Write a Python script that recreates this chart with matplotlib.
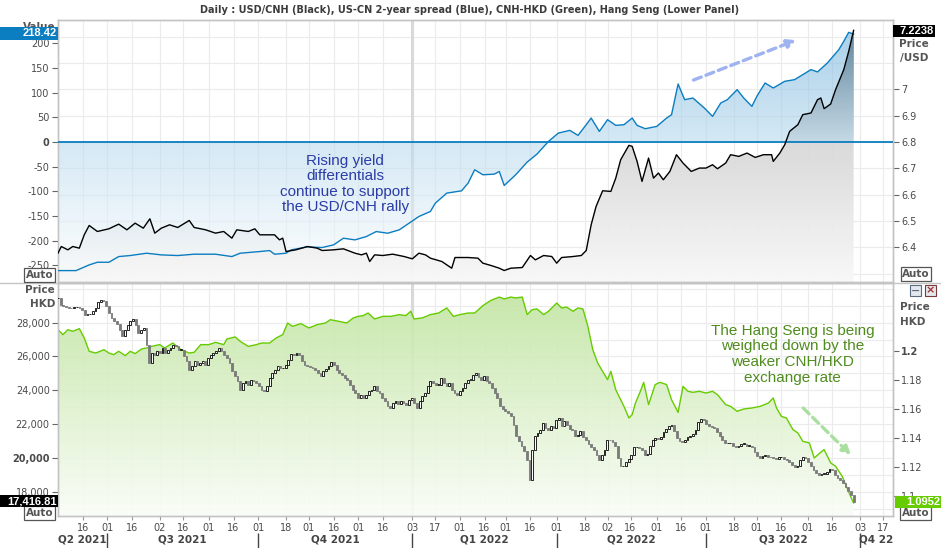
import numpy as np
import pandas as pd
import matplotlib
matplotlib.use("Agg")
import matplotlib.pyplot as plt
import matplotlib.transforms as mtransforms
from matplotlib.colors import LinearSegmentedColormap
from matplotlib.patches import Rectangle

# ---- data ----

# US-CN 2-year spread (blue, top panel, left axis)
spread_dates = [
    "2021-06-01", "2021-06-12", "2021-06-20", "2021-06-25", "2021-07-02", "2021-07-08",
    "2021-07-15", "2021-07-25", "2021-08-03", "2021-08-13", "2021-08-23", "2021-09-05",
    "2021-09-15", "2021-09-20", "2021-10-02", "2021-10-08", "2021-10-11", "2021-10-18",
    "2021-10-21", "2021-10-31", "2021-11-09", "2021-11-16", "2021-11-22", "2021-11-29",
    "2021-12-06", "2021-12-12", "2021-12-19", "2021-12-26", "2022-01-01", "2022-01-07",
    "2022-01-14", "2022-01-17", "2022-01-24", "2022-02-02", "2022-02-06", "2022-02-10",
    "2022-02-15", "2022-02-22", "2022-02-25", "2022-02-28", "2022-03-07", "2022-03-14",
    "2022-03-20", "2022-03-27", "2022-04-02", "2022-04-09", "2022-04-14", "2022-04-19",
    "2022-04-22", "2022-04-27", "2022-05-02", "2022-05-07", "2022-05-12", "2022-05-17",
    "2022-05-20", "2022-05-25", "2022-06-01", "2022-06-07", "2022-06-10", "2022-06-14",
    "2022-06-18", "2022-06-23", "2022-06-30", "2022-07-05", "2022-07-10", "2022-07-14",
    "2022-07-20", "2022-07-24", "2022-07-29", "2022-08-01", "2022-08-06", "2022-08-11",
    "2022-08-18", "2022-08-24", "2022-08-29", "2022-09-03", "2022-09-07", "2022-09-13",
    "2022-09-20", "2022-09-23", "2022-09-26", "2022-09-29",
]
spread_vals = [
    -260.6, -260.6, -249.1, -243.7, -243.7, -232.2, -230.1, -225.4, -228.8, -230.1,
    -227.4, -227.4, -232.2, -225.4, -222.0, -220.0, -227.4, -225.4, -218.7, -212.6,
    -213.9, -208.5, -195.0, -198.4, -191.6, -181.5, -184.9, -178.1, -164.6, -151.0,
    -140.9, -124.0, -103.7, -99.0, -83.4, -56.4, -66.5, -65.2, -59.8, -88.2,
    -66.5, -40.8, -24.6, 1.1, 18.0, 23.4, 13.3, 34.9, 48.4, 21.4,
    45.1, 33.6, 34.9, 48.4, 33.6, 26.8, 31.5, 48.4, 55.2, 117.4,
    85.6, 89.0, 68.7, 51.8, 78.9, 85.6, 105.9, 89.0, 72.1, 92.4,
    119.4, 109.3, 122.8, 126.2, 136.3, 146.5, 141.8, 160.0, 187.1, 204.0,
    222.0, 218.42,
]

# USD/CNH (black, top panel, right axis)
usdcnh_dates = [
    "2021-06-01", "2021-06-03", "2021-06-07", "2021-06-10", "2021-06-14", "2021-06-17",
    "2021-06-20", "2021-06-25", "2021-07-02", "2021-07-08", "2021-07-13", "2021-07-18",
    "2021-07-23", "2021-07-27", "2021-07-30", "2021-08-03", "2021-08-08", "2021-08-13",
    "2021-08-20", "2021-08-23", "2021-08-30", "2021-09-05", "2021-09-10", "2021-09-15",
    "2021-09-18", "2021-09-25", "2021-09-29", "2021-10-02", "2021-10-11", "2021-10-14",
    "2021-10-16", "2021-10-18", "2021-10-24", "2021-10-31", "2021-11-06", "2021-11-09",
    "2021-11-16", "2021-11-22", "2021-11-29", "2021-12-03", "2021-12-06", "2021-12-08",
    "2021-12-11", "2021-12-16", "2021-12-22", "2021-12-29", "2022-01-03", "2022-01-07",
    "2022-01-11", "2022-01-14", "2022-01-21", "2022-01-27", "2022-01-29", "2022-02-06",
    "2022-02-12", "2022-02-15", "2022-02-20", "2022-02-25", "2022-02-28", "2022-03-04",
    "2022-03-11", "2022-03-16", "2022-03-19", "2022-03-24", "2022-03-29", "2022-04-01",
    "2022-04-04", "2022-04-11", "2022-04-16", "2022-04-19", "2022-04-22", "2022-04-25",
    "2022-04-29", "2022-05-04", "2022-05-07", "2022-05-10", "2022-05-15", "2022-05-17",
    "2022-05-20", "2022-05-23", "2022-05-27", "2022-05-30", "2022-06-02", "2022-06-05",
    "2022-06-09", "2022-06-13", "2022-06-17", "2022-06-22", "2022-06-27", "2022-07-01",
    "2022-07-05", "2022-07-08", "2022-07-13", "2022-07-16", "2022-07-21", "2022-07-26",
    "2022-07-31", "2022-08-05", "2022-08-10", "2022-08-11", "2022-08-15", "2022-08-18",
    "2022-08-21", "2022-08-26", "2022-08-29", "2022-09-03", "2022-09-07", "2022-09-09",
    "2022-09-11", "2022-09-15", "2022-09-18", "2022-09-23", "2022-09-26", "2022-09-29",
]
usdcnh_vals = [
    6.3775, 6.4028, 6.3902, 6.4028, 6.3965, 6.4472, 6.4827, 6.4599, 6.4700, 6.4877,
    6.4662, 6.4915, 6.4725, 6.5080, 6.4535, 6.4725, 6.4852, 6.4751, 6.5017, 6.4751,
    6.4662, 6.4535, 6.4599, 6.4345, 6.4662, 6.4599, 6.4700, 6.4472, 6.4472, 6.4282,
    6.4345, 6.3838, 6.3902, 6.4028, 6.3965, 6.3876, 6.3902, 6.3940, 6.3775, 6.3711,
    6.3775, 6.3458, 6.3711, 6.3686, 6.3737, 6.3648, 6.3559, 6.3775, 6.3711, 6.3585,
    6.3458, 6.3204, 6.3610, 6.3610, 6.3585, 6.3395, 6.3306, 6.3204, 6.3116, 6.3204,
    6.3230, 6.3686, 6.3521, 6.3686, 6.3648, 6.3395, 6.3610, 6.3648, 6.3686, 6.3876,
    6.4852, 6.5549, 6.6145, 6.6120, 6.6626, 6.7324, 6.7869, 6.7831, 6.7260, 6.6500,
    6.7387, 6.6626, 6.6817, 6.6563, 6.6880, 6.7514, 6.7197, 6.6880, 6.7007, 6.7007,
    6.7133, 6.6981, 6.7197, 6.7514, 6.7450, 6.7577, 6.7412, 6.7514, 6.7514, 6.7260,
    6.7577, 6.7894, 6.8401, 6.8654, 6.9035, 6.9098, 6.9605, 6.9668, 6.9263, 6.9440,
    6.9985, 7.0746, 7.1443, 7.2238,
]

# CNH-HKD (green, lower panel, right axis)
cnhhkd_dates = [
    "2021-06-01", "2021-06-04", "2021-06-07", "2021-06-10", "2021-06-14", "2021-06-17",
    "2021-06-20", "2021-06-24", "2021-06-29", "2021-07-02", "2021-07-05", "2021-07-08",
    "2021-07-12", "2021-07-15", "2021-07-18", "2021-07-22", "2021-07-25", "2021-07-28",
    "2021-08-02", "2021-08-05", "2021-08-10", "2021-08-15", "2021-08-20", "2021-08-23",
    "2021-08-27", "2021-09-01", "2021-09-05", "2021-09-10", "2021-09-12", "2021-09-17",
    "2021-09-20", "2021-09-25", "2021-09-30", "2021-10-03", "2021-10-08", "2021-10-12",
    "2021-10-16", "2021-10-19", "2021-10-22", "2021-10-27", "2021-11-01", "2021-11-06",
    "2021-11-11", "2021-11-14", "2021-11-19", "2021-11-24", "2021-11-28", "2021-12-01",
    "2021-12-04", "2021-12-07", "2021-12-11", "2021-12-16", "2021-12-21", "2021-12-26",
    "2021-12-30", "2022-01-02", "2022-01-04", "2022-01-09", "2022-01-14", "2022-01-19",
    "2022-01-24", "2022-01-28", "2022-02-01", "2022-02-06", "2022-02-10", "2022-02-15",
    "2022-02-20", "2022-02-25", "2022-02-28", "2022-03-04", "2022-03-07", "2022-03-11",
    "2022-03-14", "2022-03-17", "2022-03-20", "2022-03-24", "2022-03-27", "2022-04-01",
    "2022-04-04", "2022-04-07", "2022-04-11", "2022-04-14", "2022-04-17", "2022-04-20",
    "2022-04-23", "2022-04-26", "2022-04-29", "2022-05-02", "2022-05-04", "2022-05-07",
    "2022-05-12", "2022-05-15", "2022-05-17", "2022-05-19", "2022-05-22", "2022-05-24",
    "2022-05-27", "2022-05-31", "2022-06-03", "2022-06-07", "2022-06-10", "2022-06-14",
    "2022-06-17", "2022-06-20", "2022-06-23", "2022-06-27", "2022-07-01", "2022-07-05",
    "2022-07-08", "2022-07-13", "2022-07-16", "2022-07-20", "2022-07-24", "2022-07-29",
    "2022-08-03", "2022-08-08", "2022-08-11", "2022-08-13", "2022-08-16", "2022-08-19",
    "2022-08-23", "2022-08-26", "2022-08-29", "2022-09-02", "2022-09-05", "2022-09-08",
    "2022-09-11", "2022-09-15", "2022-09-18", "2022-09-22", "2022-09-25", "2022-09-28",
    "2022-09-29",
]
cnhhkd_vals = [
    1.2147, 1.2113, 1.2147, 1.2136, 1.2154, 1.2090, 1.1998, 1.1986, 1.2009, 1.1986,
    1.1975, 1.1998, 1.1968, 1.1998, 1.1982, 1.2014, 1.2021, 1.2032, 1.2044, 1.2021,
    1.2055, 1.2009, 1.1986, 1.1991, 1.2044, 1.2044, 1.2060, 1.2044, 1.2083, 1.2097,
    1.2067, 1.2032, 1.2044, 1.2055, 1.2055, 1.2090, 1.2113, 1.2193, 1.2170, 1.2189,
    1.2159, 1.2182, 1.2193, 1.2216, 1.2205, 1.2193, 1.2228, 1.2239, 1.2244, 1.2262,
    1.2221, 1.2239, 1.2239, 1.2251, 1.2244, 1.2274, 1.2221, 1.2228, 1.2251, 1.2262,
    1.2297, 1.2239, 1.2251, 1.2262, 1.2262, 1.2313, 1.2350, 1.2372, 1.2359, 1.2372,
    1.2366, 1.2372, 1.2251, 1.2285, 1.2290, 1.2251, 1.2274, 1.2331, 1.2297, 1.2303,
    1.2274, 1.2297, 1.2290, 1.2170, 1.2009, 1.1917, 1.1860, 1.1802, 1.1860, 1.1733,
    1.1618, 1.1538, 1.1561, 1.1641, 1.1722, 1.1784, 1.1630, 1.1768, 1.1784, 1.1768,
    1.1664, 1.1577, 1.1756, 1.1722, 1.1715, 1.1722, 1.1710, 1.1722, 1.1699, 1.1630,
    1.1618, 1.1584, 1.1600, 1.1607, 1.1618, 1.1641, 1.1676, 1.1607, 1.1549, 1.1538,
    1.1458, 1.1435, 1.1377, 1.1366, 1.1262, 1.1292, 1.1320, 1.1228, 1.1205, 1.1136,
    1.1055, 1.0975, 1.0952,
]

# Hang Seng closes (lower panel, left axis), evenly spaced from start to end
hs_start, hs_end = "2021-06-01", "2022-09-29"
hs_close = [
    29462, 29067, 28969, 28929, 28890, 28870, 28909, 28929, 28850, 28771,
    28476, 28495, 28535, 28673, 28870, 29205, 29363, 29264, 28969, 28574,
    28278, 28081, 27943, 27588, 27194, 27588, 27884, 28081, 28219, 27884,
    27391, 27588, 27687, 26701, 25616, 26208, 26109, 26306, 26208, 26503,
    26208, 26405, 26503, 26701, 26602, 26405, 26405, 26011, 25715, 25182,
    25419, 25715, 25518, 25616, 25715, 25518, 25912, 26109, 26208, 26306,
    26503, 26306, 26109, 25912, 25616, 25123, 24827, 24532, 24039, 24433,
    24532, 24334, 24630, 24532, 24433, 24236, 24039, 23940, 24236, 24729,
    25025, 25222, 25419, 25320, 25320, 25518, 25813, 26168, 26109, 26208,
    26109, 25715, 25518, 25419, 25380, 25320, 25182, 25025, 24867, 25123,
    25261, 25419, 25656, 25518, 25222, 25025, 24926, 24729, 24630, 24334,
    24039, 23841, 23546, 23743, 23546, 23743, 23940, 24039, 24236, 23940,
    23841, 23546, 23348, 23053, 22954, 23250, 23348, 23210, 23348, 23250,
    23151, 23447, 23546, 23250, 22954, 23348, 23644, 23841, 24236, 24532,
    24433, 24334, 24334, 24729, 24433, 24275, 24433, 24039, 23841, 23743,
    23940, 24137, 24433, 24630, 24630, 24926, 25025, 24788, 24630, 24827,
    24532, 24433, 24137, 23841, 23546, 23053, 22895, 22757, 22658, 22461,
    21968, 21278, 20982, 20687, 20391, 19898, 18714, 20489, 21278, 21475,
    21672, 22067, 21771, 21672, 21869, 21771, 22264, 22363, 21869, 22165,
    21968, 21712, 21633, 21278, 21376, 21574, 21238, 21041, 20844, 20647,
    20450, 20193, 19898, 20193, 20489, 21080, 21041, 20923, 20687, 19996,
    19503, 19503, 19740, 19937, 20193, 20647, 20647, 20588, 20489, 20193,
    20252, 20726, 21041, 21179, 21120, 21238, 21515, 21712, 21909, 21968,
    21574, 21179, 20982, 20923, 21080, 21238, 21317, 21436, 21672, 22106,
    22303, 22264, 22027, 21909, 21830, 21771, 21515, 21278, 21080, 20883,
    20883, 20883, 20726, 20647, 20687, 20844, 20844, 20726, 20726, 20647,
    20331, 20095, 19996, 20134, 20193, 20055, 20055, 19996, 19937, 20055,
    20055, 19937, 19858, 19740, 19602, 19464, 19543, 19858, 20055, 19996,
    19740, 19503, 19306, 19109, 19010, 19069, 19069, 19148, 19345, 19306,
    19010, 18813, 18675, 18517, 18280, 18024, 17827, 17416.81,
]

# axis ticks and labels
spread_ticks = [-250, -200, -150, -100, -50, 0, 50, 100, 150, 200]
usd_ticks = [6.4, 6.5, 6.6, 6.7, 6.8, 6.9, 7.0]
usd_grid = [6.3, 6.4, 6.5, 6.6, 6.7, 6.8, 6.9, 7.0, 7.1, 7.2]
hs_ticks = [18000, 20000, 22000, 24000, 26000, 28000]
hs_grid = list(range(17000, 31000, 1000))
hkd_ticks = [1.1, 1.12, 1.14, 1.16, 1.18, 1.2]
xtick_dates = [
    "2021-06-16", "2021-07-01", "2021-07-16", "2021-08-02", "2021-08-16", "2021-09-01",
    "2021-09-16", "2021-10-01", "2021-10-18", "2021-11-01", "2021-11-16", "2021-12-01",
    "2021-12-16", "2022-01-03", "2022-01-17", "2022-02-01", "2022-02-16", "2022-03-01",
    "2022-03-16", "2022-04-01", "2022-04-18", "2022-05-02", "2022-05-16", "2022-06-01",
    "2022-06-16", "2022-07-01", "2022-07-18", "2022-08-01", "2022-08-16", "2022-09-01",
    "2022-09-16", "2022-10-03", "2022-10-17",
]
quarter_names = ["Q2 2021", "Q3 2021", "Q4 2021", "Q1 2022", "Q2 2022", "Q3 2022", "Q4 22"]
quarter_starts = ["2021-07-01", "2021-10-01", "2022-01-03", "2022-04-01", "2022-07-01", "2022-10-03"]
year_line = "2022-01-03"
x_range = ("2021-06-01", "2022-10-23")

title = ("Daily : USD/CNH (Black), US-CN 2-year spread (Blue), "
         "CNH-HKD (Green), Hang Seng (Lower Panel)")

# ---- figure ----
W, H = 941, 548
fig = plt.figure(figsize=(W / 100, H / 100), dpi=100)
fig.patch.set_facecolor("white")


def fx(px):
    return px / W


def fy(py):
    return 1 - py / H


ax = fig.add_axes([fx(58), fy(282), fx(893) - fx(58), fy(20) - fy(282)])
axr = ax.twinx()
ax2 = fig.add_axes([fx(58), fy(516), fx(893) - fx(58), fy(283) - fy(516)])
ax2r = ax2.twinx()

# right-hand axes sit underneath, left ones are transparent on top
for host, twin in [(ax, axr), (ax2, ax2r)]:
    twin.set_zorder(1)
    host.set_zorder(2)
    host.patch.set_visible(False)
    twin.patch.set_visible(True)
    twin.patch.set_facecolor("white")

sp_d = pd.to_datetime(spread_dates)
usd_d = pd.to_datetime(usdcnh_dates)
hkd_d = pd.to_datetime(cnhhkd_dates)
hs_d = pd.date_range(hs_start, hs_end, periods=len(hs_close))
xt = pd.to_datetime(xtick_dates)
xlo, xhi = pd.to_datetime(x_range[0]), pd.to_datetime(x_range[1])

GRID = "#ebebeb"


def gradient(host, poly, stops, colors, alpha=1.0, z=1):
    cmap = LinearSegmentedColormap.from_list("g", list(zip(stops, colors)))
    grad = np.linspace(0, 1, 256).reshape(-1, 1)
    im = host.imshow(grad, cmap=cmap, aspect="auto", origin="lower",
                     extent=[0, 1, 0, 1], transform=host.transAxes,
                     alpha=alpha, zorder=z, interpolation="bilinear")
    im.set_clip_path(poly.get_paths()[0], poly.get_transform())
    return im


# ---- top panel ----
axr.set_ylim(6.268, 7.263)
ax.set_ylim(-283.7, 247)

for v in usd_grid:
    axr.axhline(v, color=GRID, lw=0.8, zorder=0)
for d in xt:
    axr.axvline(d, color=GRID, lw=0.8, zorder=0)
axr.axvline(pd.to_datetime(year_line), color="#d9d9d9", lw=2.2, zorder=0)

poly_g = axr.fill_between(usd_d, usdcnh_vals, 6.0, facecolor="none", edgecolor="none")
gradient(axr, poly_g, [0, 0.535, 1], ["#f8f8f8", "#d8d8d8", "#2e2e2e"], alpha=0.95, z=1)

poly_b = ax.fill_between(sp_d, spread_vals, 0, facecolor="none", edgecolor="none")
gradient(ax, poly_b, [0, 0.535, 1], ["#ffffff", "#b9daee", "#6fb0da"], alpha=0.6, z=1)

ax.axhline(0, color="#0b7dc1", lw=1.3, zorder=3)
ax.plot(sp_d, spread_vals, color="#0b7dc1", lw=1.0, zorder=4)
ax.plot(usd_d, usdcnh_vals, color="black", lw=1.0, zorder=5, transform=axr.transData)

ax.text(0.344, 0.374, "Rising yield\ndifferentials\ncontinue to support\nthe USD/CNH rally",
        transform=ax.transAxes, ha="center", va="center", fontsize=11,
        family="Liberation Sans", color="#2a3ca8", linespacing=1.15, zorder=6)
ax.annotate("", xy=(0.887, 0.927), xytext=(0.758, 0.767), xycoords="axes fraction",
            arrowprops=dict(arrowstyle="-|>,head_length=0.5,head_width=0.25",
                            color="#9fb2f2", lw=2.4, linestyle=(0, (2.5, 1.5))),
            zorder=6)

# ---- bottom panel ----
ax2r.set_ylim(1.0862, 1.2469)
ax2.set_ylim(16562, 30349)

hs_tr = mtransforms.blended_transform_factory(ax2r.transAxes, ax2.transData)
ax2r.hlines(hs_grid, 0, 1, transform=hs_tr, color=GRID, lw=0.8, zorder=0)
for d in xt:
    ax2r.axvline(d, color=GRID, lw=0.8, zorder=0)
ax2r.axvline(pd.to_datetime(year_line), color="#d9d9d9", lw=2.2, zorder=0)

poly_h = ax2r.fill_between(hkd_d, cnhhkd_vals, 1.0, facecolor="none", edgecolor="none")
gradient(ax2r, poly_h, [0, 1], ["#fafdf7", "#bfe49e"], alpha=0.9, z=1)
ax2r.plot(hkd_d, cnhhkd_vals, color="#66cc00", lw=1.0, zorder=3)

# candles: open = previous close
closes = np.array(hs_close, dtype=float)
opens = np.r_[closes[0], closes[:-1]]
up = closes >= opens
body = np.abs(closes - opens)
low = np.minimum(opens, closes)
ax2.bar(hs_d[up], np.maximum(body[up], 15), bottom=low[up], width=1.1,
        color="white", edgecolor="black", linewidth=0.6, zorder=4)
ax2.bar(hs_d[~up], np.maximum(body[~up], 15), bottom=low[~up], width=1.1,
        color="#7a7a7a", edgecolor="#7a7a7a", linewidth=0.6, zorder=4)

ax2.text(0.880, 0.695, "The Hang Seng is being\nweighed down by the\nweaker CNH/HKD\nexchange rate",
         transform=ax2.transAxes, ha="center", va="center", fontsize=11,
         family="Liberation Sans", color="#4f8c1e", linespacing=1.15, zorder=6)
ax2.annotate("", xy=(0.952, 0.253), xytext=(0.890, 0.472), xycoords="axes fraction",
             arrowprops=dict(arrowstyle="-|>,head_length=0.5,head_width=0.25",
                             color="#a9e0a0", lw=2.4, linestyle=(0, (2.5, 1.5))),
             zorder=6)

# ---- axes styling ----
for a in (ax, axr, ax2, ax2r):
    a.set_xlim(xlo, xhi)
    for s in a.spines.values():
        s.set_color("#c4c4c4")
        s.set_linewidth(1.0)
ax.set_ylim(-283.7, 247)
axr.set_ylim(6.268, 7.263)
ax2.set_ylim(16562, 30349)
ax2r.set_ylim(1.0862, 1.2469)

tick_kw = dict(direction="out", length=4, width=0.8, color="#666666",
               labelsize=7, labelcolor="#4a4a4a", pad=2)
ax.tick_params(axis="y", **tick_kw)
axr.tick_params(axis="y", **tick_kw)
ax2.tick_params(axis="y", **tick_kw)
ax2r.tick_params(axis="y", **tick_kw)

ax.set_yticks(spread_ticks, [f"{v:g}" for v in spread_ticks])
axr.set_yticks(usd_ticks, [f"{v:g}" for v in usd_ticks])
ax2.set_yticks(hs_ticks, [f"{v:,.0f}" for v in hs_ticks])
ax2r.set_yticks(hkd_ticks, [f"{v:g}" for v in hkd_ticks])
for t in ax.get_yticklabels():
    if t.get_text() == "0":
        t.set_fontweight("bold")
for t in ax2.get_yticklabels():
    if t.get_text() == "20,000":
        t.set_fontweight("bold")
for t in ax2r.get_yticklabels():
    if t.get_text() == "1.2":
        t.set_fontweight("bold")

for a in (ax, axr, ax2r):
    a.tick_params(axis="x", bottom=False, labelbottom=False, top=False)
ax2.set_xticks(xt, [d.strftime("%d") for d in xt])
ax2.tick_params(axis="x", direction="out", length=3, width=0.8, color="#999999",
                labelsize=7, labelcolor="#4a4a4a", pad=2)

# quarter row under the dates
qx = mtransforms.blended_transform_factory(ax2.transData, ax2.transAxes)
bounds = [xlo] + list(pd.to_datetime(quarter_starts)) + [xhi]
for name, a0, a1 in zip(quarter_names, bounds[:-1], bounds[1:]):
    ax2.text(a0 + (a1 - a0) / 2, -0.103, name, transform=qx, ha="center", va="center",
             fontsize=7.5, fontweight="bold", color="#444444", clip_on=False)
ax2.vlines(pd.to_datetime(quarter_starts), -0.137, -0.073, transform=qx,
           color="#444444", lw=1.0, clip_on=False)

# ---- title, axis headers and value boxes ----
fig.text(fx(470), fy(10), title, ha="center", va="center", fontsize=7,
         fontweight="bold", color="#3c3c3c")

fig.add_artist(plt.Line2D([0, 1], [fy(282.5), fy(282.5)], color="#c4c4c4", lw=1.0,
                          transform=fig.transFigure))

head = dict(fontsize=7.5, fontweight="bold", color="#555555", va="center")
fig.text(fx(39), fy(27), "Value", ha="center", zorder=2, **head)
fig.text(fx(914), fy(44), "Price", ha="center", **head)
fig.text(fx(900), fy(58.5), "/USD", ha="left", **head)
fig.text(fx(55), fy(290), "Price", ha="right", **head)
fig.text(fx(55), fy(304), "HKD", ha="right", **head)
fig.text(fx(900), fy(307), "Price", ha="left", **head)
fig.text(fx(900), fy(322), "HKD", ha="left", **head)

auto_kw = dict(fontsize=7.5, fontweight="bold", color="#555555", ha="center", va="center",
               bbox=dict(boxstyle="square,pad=0.15", fc="white", ec="#555555", lw=0.9),
               zorder=3)
fig.text(fx(39.5), fy(275), "Auto", **auto_kw)
fig.text(fx(916), fy(274), "Auto", **auto_kw)
fig.text(fx(39.5), fy(513), "Auto", **auto_kw)
fig.text(fx(915.5), fy(513), "Auto", **auto_kw)


def value_box(x0, x1, y0, y1, color, text):
    fig.add_artist(Rectangle((fx(x0), fy(y1)), fx(x1) - fx(x0), fy(y0) - fy(y1),
                             transform=fig.transFigure, fc=color, ec="none", zorder=5))
    fig.text(fx(x1 - 1), fy((y0 + y1) / 2), text, ha="right", va="center",
             fontsize=8, fontweight="bold", family="Liberation Sans",
             color="white", zorder=6)


value_box(0, 58, 27, 40, "#0b7dc1", f"{spread_vals[-1]:.2f}")
value_box(893, 935, 25, 37, "black", f"{usdcnh_vals[-1]:.4f}")
value_box(0, 58, 495, 507, "black", f"{hs_close[-1]:,.2f}")
value_box(895, 941, 496, 508, "#66cc00", f"{cnhhkd_vals[-1]:.4f}")

# little panel buttons
for x0, ec, mark, mc in [(910, "#5a6a80", "\u2212", "#5a6a80"), (925, "#7a3a3a", "\u00d7", "#a03030")]:
    fig.add_artist(Rectangle((fx(x0), fy(296)), fx(11), 11 / H, transform=fig.transFigure,
                             fc="#e4e8ee", ec=ec, lw=0.8, zorder=5))
    fig.text(fx(x0 + 5.5), fy(290.5), mark, ha="center", va="center", fontsize=8,
             color=mc, fontweight="bold", zorder=6)

fig.savefig("out.png", dpi=100)
